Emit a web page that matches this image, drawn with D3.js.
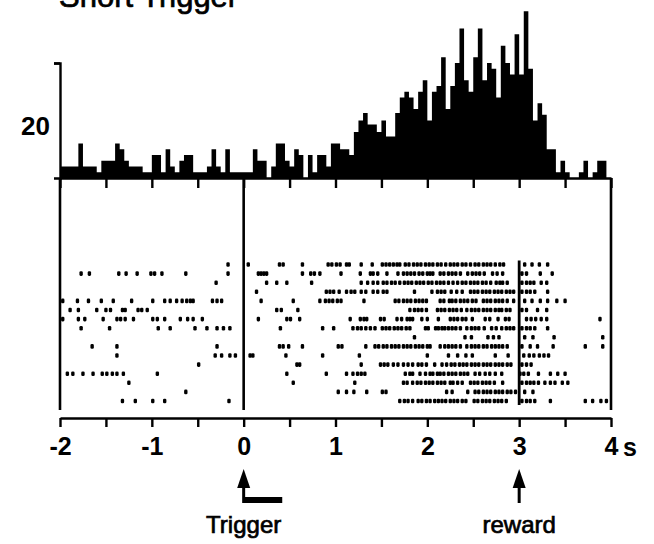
<!DOCTYPE html>
<html>
<head>
<meta charset="utf-8">
<script src="https://cdn.jsdelivr.net/npm/d3@7"></script>
<style>
  body { margin: 0; background: #fff; }
  svg { display: block; }
  text { font-family: "Liberation Sans", Arial, Helvetica, sans-serif; fill: #000; }
  .heavy { stroke: #000; stroke-width: 0.7px; }
</style>
</head>
<body>
<svg id="chart" width="654" height="544"></svg>
<script>
// Peri-event histogram (50 ms bins, imp/s scale units) starting at -2 s
const histStart = -2;
const binWidth = 0.05;
const histCounts = [
  2, 2, 2, 2, 6, 2, 2, 2, 1, 3,
  3, 3, 6, 5, 3, 2, 2, 2, 1, 1,
  4, 4, 1, 5, 2, 1, 3, 4, 4, 1,
  1, 1, 2, 5, 2, 1, 5, 1, 1, 1,
  1, 1, 5, 3, 3, 0, 2, 6, 6, 3,
  2, 5, 4, 0, 4, 1, 4, 4, 2, 6,
  6, 5, 5, 4, 8, 10, 11.3, 9.3, 9.3, 8,
  10, 7.2, 7.2, 11.3, 14, 15, 14, 12, 15, 17,
  10, 15, 16, 21, 12, 16, 20, 26, 17, 15,
  21, 26, 17, 20, 19, 14, 23, 20, 18, 25,
  18, 29, 19, 10, 13, 11, 5, 5, 1, 3,
  1, 0, 0, 1, 3, 0, 1, 3, 3, 0
];

// Spike times (s) for each trial, aligned on the trigger
const trial01 = [-0.17, 0.05, 0.39, 0.43, 0.64, 0.92, 0.96, 1.01, 1.05, 1.12, 1.15, 1.28, 1.40, 1.51, 1.55, 1.59, 1.63, 1.67, 1.70, 1.76, 1.80, 1.85, 1.89, 1.93, 1.98, 2.02, 2.06, 2.11, 2.15, 2.20, 2.25, 2.29, 2.33, 2.38, 2.42, 2.47, 2.52, 2.56, 2.61, 2.65, 2.69, 2.74, 2.79, 2.83, 3.06, 3.14, 3.22, 3.31];
const trial02 = [-1.77, -1.68, -1.36, -1.28, -1.16, -1.01, -0.97, -0.89, -0.63, -0.17, 0.16, 0.19, 0.22, 0.25, 0.64, 0.73, 0.77, 0.83, 1.06, 1.27, 1.38, 1.41, 1.46, 1.56, 1.68, 1.74, 1.78, 1.82, 1.86, 1.91, 1.95, 2.00, 2.03, 2.06, 2.14, 2.18, 2.23, 2.27, 2.31, 2.36, 2.44, 2.49, 2.53, 2.57, 2.62, 2.71, 2.76, 2.82, 3.03, 3.08, 3.23, 3.36];
const trial03 = [-0.30, 0.25, 0.36, 0.47, 0.74, 1.28, 1.35, 1.41, 1.46, 1.52, 1.56, 1.61, 1.65, 1.70, 1.75, 1.79, 1.83, 1.88, 1.92, 1.96, 2.01, 2.05, 2.10, 2.14, 2.18, 2.23, 2.28, 2.33, 2.38, 2.42, 2.47, 2.51, 2.55, 2.60, 2.64, 2.69, 2.75, 2.79, 2.82, 2.87, 3.03, 3.08, 3.12, 3.16, 3.24, 3.30];
const trial04 = [0.14, 0.90, 0.94, 0.98, 1.04, 1.12, 1.17, 1.21, 1.28, 1.33, 1.41, 1.46, 1.52, 1.56, 1.86, 2.05, 2.11, 2.15, 2.19, 2.26, 2.32, 2.38, 2.47, 2.51, 2.55, 2.60, 2.64, 2.68, 2.73, 2.77, 2.81, 2.86, 2.90, 2.94, 3.03, 3.08, 3.12, 3.17, 3.31];
const trial05 = [-1.97, -1.81, -1.69, -1.55, -1.42, -1.22, -0.99, -0.86, -0.80, -0.73, -0.67, -0.62, -0.58, -0.55, -0.34, -0.29, -0.24, 0.19, 0.54, 0.83, 0.89, 0.93, 0.97, 1.02, 1.06, 1.31, 1.65, 1.69, 1.74, 1.78, 1.82, 1.87, 1.91, 1.95, 1.99, 2.14, 2.18, 2.24, 2.27, 2.31, 2.36, 2.40, 2.44, 2.49, 2.53, 2.61, 2.65, 2.69, 2.74, 2.78, 2.82, 2.87, 2.94, 3.06, 3.14, 3.23, 3.31, 3.41, 3.50];
const trial06 = [-1.89, -1.80, -1.60, -1.50, -1.45, -1.32, -1.29, -1.15, -1.11, -1.05, 0.36, 0.41, 0.59, 1.81, 1.86, 1.90, 1.94, 1.99, 2.11, 2.15, 2.19, 2.24, 2.28, 2.32, 2.37, 2.43, 2.48, 2.52, 2.56, 2.61, 2.65, 2.69, 2.74, 2.78, 2.81, 2.86, 2.90, 3.03, 3.08, 3.20, 3.30];
const trial07 = [-1.97, -1.80, -1.73, -1.53, -1.38, -1.34, -1.29, -1.20, -0.99, -0.94, -0.86, -0.69, -0.61, -0.55, -0.45, 0.16, 0.47, 0.51, 0.61, 1.16, 1.27, 1.31, 1.34, 1.49, 1.53, 1.67, 1.72, 1.78, 1.81, 1.84, 1.94, 2.00, 2.12, 2.25, 2.29, 2.33, 2.38, 2.42, 2.49, 2.63, 2.68, 2.77, 2.85, 2.89, 3.08, 3.13, 3.18, 3.24, 3.30, 3.88];
const trial08 = [-1.77, -1.46, -0.93, -0.80, -0.53, -0.40, -0.29, -0.22, -0.15, 0.40, 0.86, 0.98, 1.19, 1.24, 1.28, 1.33, 1.38, 1.43, 1.51, 1.55, 1.59, 1.64, 1.68, 1.72, 1.77, 1.81, 1.98, 2.01, 2.09, 2.12, 2.16, 2.19, 2.23, 2.27, 2.31, 2.36, 2.43, 2.48, 2.52, 2.56, 2.62, 2.70, 2.75, 2.81, 2.86, 2.90, 2.94, 3.03, 3.08, 3.12, 3.17, 3.31];
const trial09 = [1.86, 2.41, 2.48, 2.66, 2.72, 2.78, 3.06, 3.15, 3.38, 3.91];
const trial10 = [-1.65, -1.38, -0.29, 0.39, 0.43, 0.49, 0.64, 1.03, 1.07, 1.33, 1.43, 1.47, 1.52, 1.56, 1.61, 1.65, 1.69, 1.74, 1.78, 1.82, 1.87, 1.91, 1.95, 2.00, 2.03, 2.14, 2.19, 2.23, 2.27, 2.31, 2.36, 2.43, 2.48, 2.52, 2.56, 2.61, 2.65, 2.70, 2.74, 2.78, 2.82, 2.87, 3.03, 3.12, 3.20, 3.37, 3.72, 3.91];
const trial11 = [-1.38, -0.31, -0.24, -0.15, -0.09, 0.07, 0.10, 0.46, 0.86, 1.26, 2.00, 2.23, 2.33, 2.42, 2.49, 2.74, 2.88, 3.05, 3.11, 3.16, 3.22, 3.27, 3.32];
const trial12 = [-0.49, 0.58, 0.61, 1.28, 1.49, 1.53, 1.57, 1.63, 1.68, 1.74, 1.79, 1.84, 1.90, 1.94, 1.99, 2.08, 2.16, 2.21, 2.26, 2.30, 2.35, 2.39, 2.43, 2.48, 2.52, 2.56, 2.61, 2.65, 2.69, 2.74, 2.78, 2.82, 2.87, 2.91, 3.03, 3.08, 3.13];
const trial13 = [-1.92, -1.86, -1.75, -1.64, -1.54, -1.49, -1.43, -1.38, -1.31, -0.94, 0.47, 0.90, 1.12, 1.19, 1.24, 1.28, 1.32, 1.76, 1.81, 1.84, 1.92, 1.98, 2.03, 2.06, 2.11, 2.14, 2.18, 2.23, 2.27, 2.31, 2.36, 2.40, 2.44, 2.52, 2.57, 2.63, 2.68, 2.74, 2.81, 3.01, 3.05, 3.10, 3.21, 3.34, 3.42, 3.50];
const trial14 = [-1.25, 0.54, 1.21, 1.74, 1.78, 1.84, 1.89, 1.93, 1.98, 2.02, 2.06, 2.11, 2.15, 2.19, 2.25, 2.28, 2.33, 2.38, 2.47, 2.51, 2.55, 2.60, 2.64, 2.68, 2.73, 2.82, 3.03, 3.08, 3.12, 3.16, 3.21, 3.28, 3.34, 3.39, 3.47, 3.53];
const trial15 = [-0.63, 1.03, 1.12, 1.20, 1.34, 1.51, 1.55, 2.21, 2.27, 2.44, 2.52, 2.56, 2.61, 2.65, 2.69, 2.74, 2.78, 2.82, 2.87, 2.91, 2.96, 3.06, 3.15];
const trial16 = [-1.32, -1.18, -0.99, -0.86, -0.16, 1.70, 1.75, 1.79, 1.84, 1.90, 1.94, 1.99, 2.03, 2.08, 2.12, 2.16, 2.20, 2.25, 2.29, 2.33, 2.38, 2.42, 2.51, 2.55, 2.60, 2.64, 2.68, 2.73, 2.77, 2.81, 2.86, 3.03, 3.08, 3.12, 3.17, 3.34, 3.72, 3.80, 3.89, 3.95];
const trials = [trial01, trial02, trial03, trial04, trial05, trial06, trial07, trial08,
                trial09, trial10, trial11, trial12, trial13, trial14, trial15, trial16];

// Time axis
const timeDomain = [-2, 4];
const minorTicks = [-2, -1.5, -1, -0.5, 0, 0.5, 1, 1.5, 2, 2.5, 3, 3.5, 4];
const tickLabels = { "-2": "-2", "-1": "-1", "0": "0", "1": "1", "2": "2", "3": "3", "4": "4" };
const timeUnit = "s";

// Events
const events = [{ label: "Trigger", t: 0 }, { label: "reward", t: 3 }];
const triggerBar = 0.42;   // trigger signal duration (s)
const title = "Short Trigger";
const scaleValue = 20;     // vertical scale bar = 20 imp/s

const svg = d3.select("#chart");

const x = d3.scaleLinear().domain(timeDomain).range([60, 611]);
const yHist = d3.scaleLinear().domain([0, scaleValue]).range([178, 63]);
const yRow = d3.scaleLinear().domain([0, trials.length - 1]).range([264.5, 401]);

// Title (top edge of the panel)
svg.append("text").attr("x", 59).attr("y", 7).attr("class", "heavy")
  .style("font-size", "31px").text(title);

// Histogram (step outline, filled)
const histData = histCounts.map((v, i) => ({ t: histStart + i * binWidth, v }));
histData.push({ t: histStart + histCounts.length * binWidth, v: 0 });
const area = d3.area()
  .x(d => x(d.t))
  .y0(yHist(0))
  .y1(d => yHist(d.v))
  .curve(d3.curveStepAfter);
svg.append("path").datum(histData).attr("d", area).attr("fill", "#000");

// Vertical scale bar of the histogram
const yAxis = d3.axisLeft(yHist).tickValues([scaleValue]).tickSize(6).tickFormat("");
const gy = svg.append("g").attr("transform", `translate(${x(timeDomain[0])},0)`).call(yAxis);
gy.selectAll("path, line").attr("stroke", "#000").attr("stroke-width", 2.4);
svg.append("text").attr("x", 50).attr("y", yHist(scaleValue * 0.43)).attr("text-anchor", "end")
  .attr("dominant-baseline", "middle").style("font-size", "26px").style("font-weight", "bold")
  .text(String(scaleValue));

// Top frame line of the raster with ticks
const topAxis = d3.axisBottom(x).tickValues(minorTicks).tickSize(10).tickSizeOuter(0).tickFormat("");
const gt = svg.append("g").attr("transform", `translate(0,${yHist(0)})`).call(topAxis);
gt.selectAll("path, line").attr("stroke", "#000").attr("stroke-width", 2.4);

// Raster frame: left, right and trigger lines
const frameTop = yHist(0), frameBottom = 410;
[timeDomain[0], 0, timeDomain[1]].forEach(t => {
  svg.append("line").attr("x1", x(t)).attr("x2", x(t))
    .attr("y1", frameTop).attr("y2", frameBottom)
    .attr("stroke", "#000").attr("stroke-width", 2.6);
});
// Reward marker line through the trials
svg.append("line").attr("x1", x(3)).attr("x2", x(3))
  .attr("y1", yRow(0) - 4).attr("y2", yRow(trials.length - 1) + 4)
  .attr("stroke", "#000").attr("stroke-width", 2.8);

// Spikes
const spikes = trials.flatMap((row, i) => row.map(t => ({ t, i })));
svg.append("g").selectAll("rect").data(spikes).join("rect")
  .attr("x", d => x(d.t) - 1.7)
  .attr("y", d => yRow(d.i) - 2.3)
  .attr("width", 3.4).attr("height", 4.6).attr("rx", 1.3)
  .attr("fill", "#000");

// Bottom time axis
const bottomAxis = d3.axisBottom(x).tickValues(minorTicks).tickSize(9).tickSizeOuter(0)
  .tickPadding(10)
  .tickFormat(d => tickLabels[String(d)] || "");
const gb = svg.append("g").attr("transform", "translate(0,418)").call(bottomAxis);
gb.selectAll("path, line").attr("stroke", "#000").attr("stroke-width", 2.4);
gb.selectAll("text").style("font-size", "25px").style("font-weight", "bold").attr("fill", "#000")
  .style("font-family", '"Liberation Sans", Arial, sans-serif');
svg.append("text").attr("x", x(timeDomain[1]) + 12).attr("y", 456)
  .style("font-size", "25px").style("font-weight", "bold").text(timeUnit);

// Event arrows and labels
events.forEach(ev => {
  const cx = x(ev.t);
  svg.append("path")
    .attr("d", `M${cx},469 L${cx - 6.5},488 L${cx + 6.5},488 Z`).attr("fill", "#000");
  svg.append("line").attr("x1", cx).attr("x2", cx).attr("y1", 486).attr("y2", 503)
    .attr("stroke", "#000").attr("stroke-width", 3);
  svg.append("text").attr("x", cx).attr("y", 533).attr("text-anchor", "middle").attr("class", "heavy")
    .style("font-size", "24px").text(ev.label);
});
// Trigger duration bar
svg.append("rect").attr("x", x(0)).attr("y", 497)
  .attr("width", x(triggerBar) - x(0)).attr("height", 6).attr("fill", "#000");
</script>
</body>
</html>
